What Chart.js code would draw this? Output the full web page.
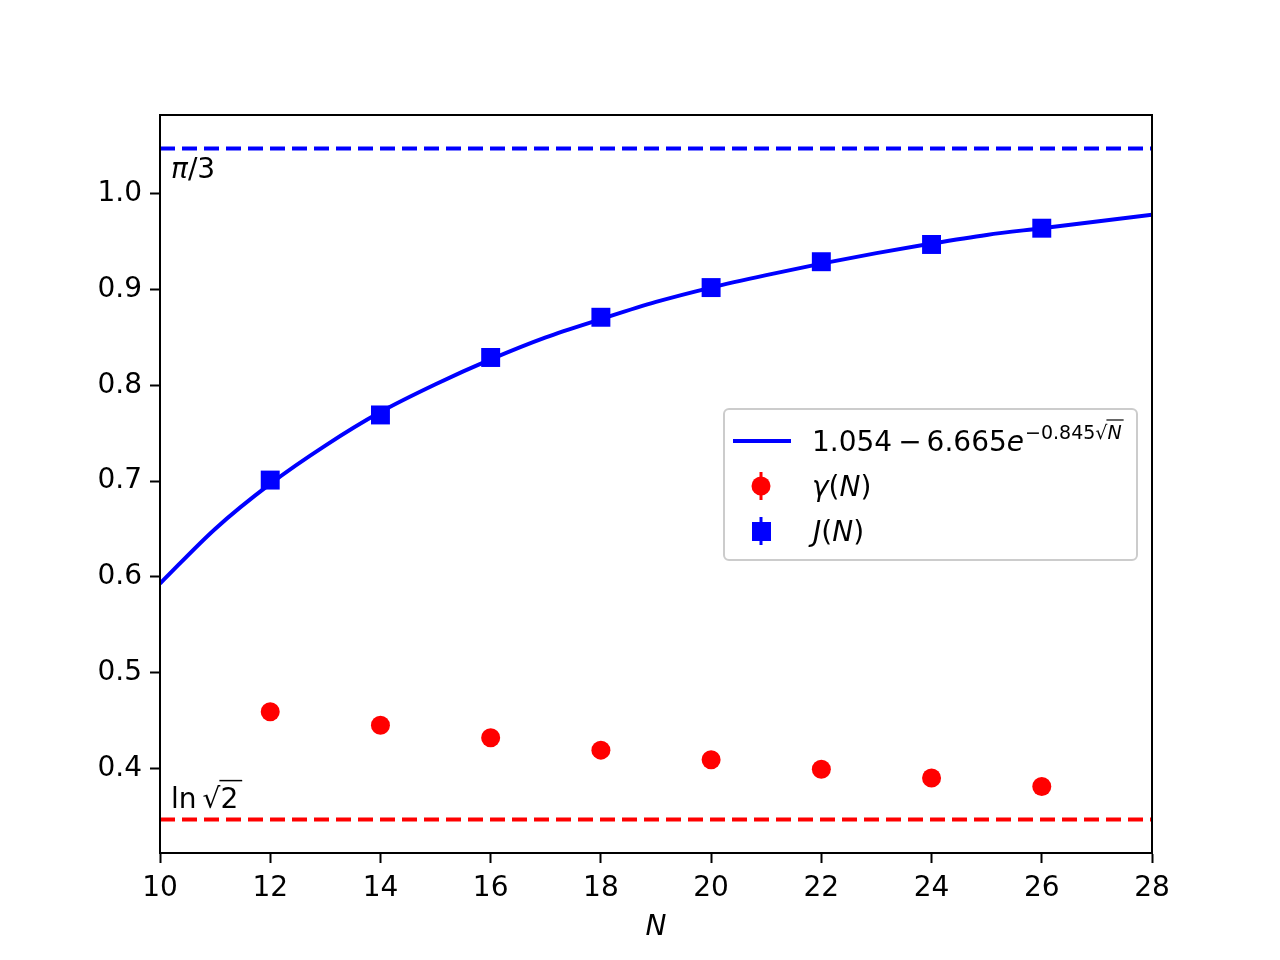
<!DOCTYPE html>
<html>
<head>
<meta charset="utf-8">
<script src="https://cdn.jsdelivr.net/npm/chart.js@4.4.0/dist/chart.umd.min.js"></script>
<style>
html, body { margin: 0; padding: 0; background: #fff; }
</style>
</head>
<body>
<canvas id="myChart" width="1280" height="960"></canvas>
<script>
// data
const sizesN = [12, 14, 16, 18, 20, 22, 24, 26];
const gammaN = [0.459, 0.445, 0.432, 0.419, 0.409, 0.399, 0.390, 0.381];
const jN = [0.701, 0.769, 0.829, 0.871, 0.902, 0.929, 0.947, 0.964];

// fit curve, read every N = 1
const fitN = [10, 11, 12, 13, 14, 15, 16, 17, 18, 19, 20, 21, 22, 23, 24, 25, 26, 27, 28];
const fitVals = [0.593, 0.650, 0.697, 0.737, 0.772, 0.801, 0.827, 0.850, 0.869, 0.887, 0.902,
                 0.915, 0.927, 0.938, 0.948, 0.957, 0.964, 0.971, 0.978];

const piOver3 = 1.0472;
const lnSqrt2 = 0.3466;

const xTicks = [10, 12, 14, 16, 18, 20, 22, 24, 26, 28];
const yTicks = [0.4, 0.5, 0.6, 0.7, 0.8, 0.9, 1.0];

const FONT = "'DejaVu Sans', sans-serif";
const BLUE = '#0000ff';
const RED = '#ff0000';

const pts = (xs, ys) => xs.map((x, i) => ({ x: x, y: ys[i] }));

// draw pieces of text one after another, returns end x
// piece = [text, font, gapAfter]
function drawRun(c, x, y, pieces) {
  pieces.forEach(p => {
    c.font = p[1];
    c.fillText(p[0], x, y);
    x += c.measureText(p[0]).width + (p[2] || 0);
  });
  return x;
}

const extras = {
  id: 'extras',
  afterDraw(chart) {
    const c = chart.ctx;
    const a = chart.chartArea;
    const xs = chart.scales.x, ys = chart.scales.y;
    c.save();
    // frame
    c.strokeStyle = '#000';
    c.lineWidth = 2;
    c.strokeRect(a.left, a.top, a.right - a.left, a.bottom - a.top);

    c.fillStyle = '#000';
    c.textBaseline = 'alphabetic';
    c.textAlign = 'left';

    // pi/3 label
    let lx = xs.getPixelForValue(10.2);
    drawRun(c, lx, ys.getPixelForValue(1.016), [['π', 'italic 28px ' + FONT], ['/3', '28px ' + FONT]]);

    // ln sqrt2 label
    let by = ys.getPixelForValue(0.359);
    let ex = drawRun(c, lx, by, [['ln', '28px ' + FONT]]);
    ex += 6;
    c.font = '28px ' + FONT;
    c.fillText('√', ex, by);
    let sx = ex + c.measureText('√').width;
    c.fillText('2', sx, by);
    let tx = sx + c.measureText('2').width + 4;
    c.lineWidth = 1.5;
    c.beginPath();
    c.moveTo(sx - 1, by - 27);
    c.lineTo(tx, by - 27);
    c.stroke();

    // legend
    c.beginPath();
    c.roundRect(724, 409, 413, 151, 5);
    c.fillStyle = 'rgba(255,255,255,0.8)';
    c.fill();
    c.strokeStyle = '#cccccc';
    c.lineWidth = 2;
    c.stroke();

    // fit entry
    c.strokeStyle = BLUE;
    c.lineWidth = 4;
    c.beginPath();
    c.moveTo(733, 441);
    c.lineTo(791, 441);
    c.stroke();
    c.fillStyle = '#000';
    let px = drawRun(c, 812, 451, [
      ['1.054', '28px ' + FONT, 6],
      ['−', '28px ' + FONT, 5],
      ['6.665', '28px ' + FONT],
      ['e', 'italic 28px ' + FONT]
    ]);
    px = drawRun(c, px + 1, 439, [['−0.845', '19px ' + FONT]]);
    c.font = '19px ' + FONT;
    c.fillText('√', px, 439);
    let nx = px + c.measureText('√').width;
    c.font = 'italic 19px ' + FONT;
    c.fillText('N', nx, 439);
    let nend = nx + c.measureText('N').width + 2;
    c.strokeStyle = '#000';
    c.lineWidth = 1.2;
    c.beginPath();
    c.moveTo(nx - 1, 420);
    c.lineTo(nend, 420);
    c.stroke();

    // gamma entry
    c.strokeStyle = RED;
    c.lineWidth = 3;
    c.beginPath();
    c.moveTo(761, 472);
    c.lineTo(761, 500);
    c.stroke();
    c.fillStyle = RED;
    c.beginPath();
    c.arc(761, 486, 9.5, 0, Math.PI * 2);
    c.fill();
    c.fillStyle = '#000';
    drawRun(c, 812, 496, [['γ', 'italic 28px ' + FONT], ['(', '28px ' + FONT], ['N', 'italic 28px ' + FONT], [')', '28px ' + FONT]]);

    // J entry
    c.strokeStyle = BLUE;
    c.beginPath();
    c.moveTo(761, 517);
    c.lineTo(761, 545);
    c.stroke();
    c.fillStyle = BLUE;
    c.fillRect(752, 522, 19, 19);
    c.fillStyle = '#000';
    drawRun(c, 813, 541, [['J', 'italic 28px ' + FONT], ['(', '28px ' + FONT], ['N', 'italic 28px ' + FONT], [')', '28px ' + FONT]]);

    c.restore();
  }
};

new Chart(document.getElementById('myChart'), {
  type: 'scatter',
  data: {
    datasets: [
      {
        data: pts([10, 28], [piOver3, piOver3]),
        showLine: true,
        borderColor: BLUE,
        borderWidth: 4,
        borderDash: [15, 7],
        pointRadius: 0
      },
      {
        data: pts([10, 28], [lnSqrt2, lnSqrt2]),
        showLine: true,
        borderColor: RED,
        borderWidth: 4,
        borderDash: [15, 7],
        pointRadius: 0
      },
      {
        data: pts(fitN, fitVals),
        showLine: true,
        borderColor: BLUE,
        borderWidth: 4,
        cubicInterpolationMode: 'monotone',
        pointRadius: 0
      },
      {
        data: pts(sizesN, gammaN),
        pointStyle: 'circle',
        pointRadius: 9.5,
        backgroundColor: RED,
        borderColor: RED,
        borderWidth: 0
      },
      {
        data: pts(sizesN, jN),
        pointStyle: 'rect',
        pointRadius: 13.4,
        backgroundColor: BLUE,
        borderColor: BLUE,
        borderWidth: 0
      }
    ]
  },
  options: {
    responsive: false,
    animation: false,
    devicePixelRatio: 1,
    layout: { padding: { left: 0, right: 128, top: 115, bottom: 0 } },
    plugins: { legend: { display: false }, tooltip: { enabled: false } },
    scales: {
      x: {
        type: 'linear',
        min: 10,
        max: 28,
        afterBuildTicks: s => { s.ticks = xTicks.map(v => ({ value: v })); },
        afterFit: s => { s.height = 107; },
        grid: { drawOnChartArea: false, drawTicks: true, tickLength: 10, tickWidth: 2, color: '#000' },
        border: { display: true, color: '#000', width: 2 },
        ticks: { color: '#000', font: { family: FONT, size: 28 }, padding: 9, maxRotation: 0 },
        title: { display: true, text: 'N', color: '#000', font: { family: FONT, size: 28, style: 'italic' }, padding: { top: 4, bottom: 15 } }
      },
      y: {
        type: 'linear',
        min: 0.3116,
        max: 1.0822,
        afterBuildTicks: s => { s.ticks = yTicks.map(v => ({ value: v })); },
        afterFit: s => { s.width = 160; },
        grid: { drawOnChartArea: false, drawTicks: true, tickLength: 10, tickWidth: 2, color: '#000' },
        border: { display: true, color: '#000', width: 2 },
        ticks: { color: '#000', font: { family: FONT, size: 28 }, padding: 8, callback: v => v.toFixed(1) }
      }
    }
  },
  plugins: [extras]
});
</script>
</body>
</html>
